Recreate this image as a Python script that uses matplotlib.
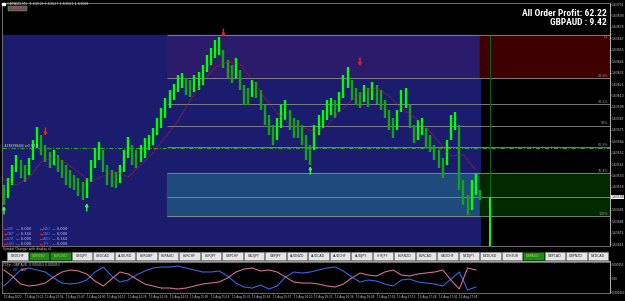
import numpy as np
import matplotlib.pyplot as plt
from matplotlib.patches import Rectangle
from matplotlib.transforms import blended_transform_factory

W, H = 625, 301

# ---- GBPAUD M1 bars ----
highs = [1.63520, 1.63527, 1.63540, 1.63550, 1.63545, 1.63540, 1.63547, 1.63565, 1.63578, 1.63570,
         1.63560, 1.63553, 1.63555, 1.63550, 1.63545, 1.63540, 1.63535, 1.63530, 1.63527, 1.63523,
         1.63527, 1.63545, 1.63557, 1.63563, 1.63555, 1.63540, 1.63535, 1.63533, 1.63540, 1.63555,
         1.63568, 1.63560, 1.63555, 1.63560, 1.63567, 1.63570, 1.63577, 1.63587, 1.63597, 1.63607,
         1.63615, 1.63621, 1.63630, 1.63632, 1.63627, 1.63625, 1.63630, 1.63633, 1.63640, 1.63650,
         1.63657, 1.63665, 1.63668, 1.63655, 1.63645, 1.63640, 1.63647, 1.63635, 1.63620, 1.63617,
         1.63625, 1.63623, 1.63615, 1.63600, 1.63590, 1.63580, 1.63587, 1.63600, 1.63605, 1.63595,
         1.63587, 1.63585, 1.63580, 1.63570, 1.63560, 1.63580, 1.63590, 1.63595, 1.63605, 1.63607,
         1.63605, 1.63613, 1.63630, 1.63638, 1.63625, 1.63617, 1.63613, 1.63620, 1.63617, 1.63623,
         1.63620, 1.63615, 1.63605, 1.63595, 1.63587, 1.63595, 1.63615, 1.63617, 1.63600, 1.63580,
         1.63585, 1.63587, 1.63577, 1.63570, 1.63560, 1.63555, 1.63547, 1.63565, 1.63590, 1.63593,
         1.63580, 1.63525, 1.63510, 1.63525, 1.63532, 1.63515]
lows = [1.63500, 1.63507, 1.63520, 1.63533, 1.63527, 1.63523, 1.63530, 1.63545, 1.63557, 1.63550,
        1.63543, 1.63537, 1.63540, 1.63533, 1.63527, 1.63520, 1.63517, 1.63515, 1.63509, 1.63505,
        1.63507, 1.63523, 1.63537, 1.63545, 1.63533, 1.63520, 1.63518, 1.63517, 1.63522, 1.63533,
        1.63547, 1.63540, 1.63537, 1.63543, 1.63547, 1.63555, 1.63560, 1.63570, 1.63577, 1.63587,
        1.63597, 1.63605, 1.63613, 1.63617, 1.63610, 1.63608, 1.63613, 1.63615, 1.63620, 1.63633,
        1.63640, 1.63647, 1.63650, 1.63637, 1.63627, 1.63622, 1.63627, 1.63615, 1.63600, 1.63600,
        1.63608, 1.63607, 1.63595, 1.63580, 1.63570, 1.63560, 1.63565, 1.63577, 1.63585, 1.63575,
        1.63567, 1.63567, 1.63560, 1.63545, 1.63540, 1.63555, 1.63570, 1.63577, 1.63585, 1.63590,
        1.63587, 1.63593, 1.63607, 1.63617, 1.63605, 1.63600, 1.63597, 1.63603, 1.63598, 1.63605,
        1.63601, 1.63595, 1.63587, 1.63575, 1.63567, 1.63575, 1.63593, 1.63597, 1.63577, 1.63562,
        1.63565, 1.63570, 1.63557, 1.63553, 1.63545, 1.63537, 1.63527, 1.63540, 1.63565, 1.63575,
        1.63515, 1.63500, 1.63490, 1.63495, 1.63510, 1.63505]

# moving average, one point every 3 bars
ma_vals = [1.63525, 1.63520, 1.63527, 1.63543, 1.63548, 1.63542, 1.63533, 1.63523, 1.63529, 1.63533,
           1.63528, 1.63540, 1.63552, 1.63568, 1.63584, 1.63605, 1.63623, 1.63638, 1.63643, 1.63641,
           1.63625, 1.63607, 1.63592, 1.63581, 1.63578, 1.63573, 1.63579, 1.63593, 1.63605, 1.63613,
           1.63617, 1.63609, 1.63597, 1.63588, 1.63578, 1.63563, 1.63549, 1.63550, 1.63535]

bid = 1.63508
order_price = 1.63557
fib_high, fib_low = 1.63670, 1.63489
fib_ratios = [0, 23.6, 38.2, 50, 61.8, 76.4, 100]
fib_labels = ['D1', '23.6%', '38.2%', '50%', '61.8%', '76.4%', '100%']
fib_start, session_end, separator = 39.4, 115, 117.4

sell_bars = [10, 53, 86]
sell_prices = [1.63573, 1.63672, 1.63643]
buy_bars = [0, 20, 74]
buy_prices = [1.63495, 1.63498, 1.63535]

# CCFp lines (units of 1e-4), one point every 2 bars
gbp_line = [-2.59, 0.00, 2.59, 3.24, 2.59, 1.94, 0.00, -1.62, -1.94, -1.62,
            -0.65, 1.94, 3.56, 0.65, -1.29, -0.65, 0.97, 2.27, 3.24, 3.56,
            3.56, 3.88, 3.24, 2.59, 1.94, 1.94, 2.27, 0.65, -1.62, -2.91,
            -3.24, -2.27, -3.56, -2.59, 0.32, 1.94, 1.62, 1.94, 2.59, 3.24,
            3.56, 2.27, 0.32, -1.29, -0.65, -0.97, -1.94, -2.59, -0.65, -0.32,
            -1.29, -1.62, -1.94, -2.59, -0.32, 1.94, -3.88, -2.91]
aud_line = [2.59, 0.65, -1.94, -2.59, -2.27, -1.62, 0.32, 1.94, 2.59, 2.27,
            1.29, -0.97, -2.59, -0.32, 1.94, 1.29, -0.32, -1.94, -2.59, -3.24,
            -3.24, -3.56, -3.24, -2.59, -1.94, -1.62, -1.29, 0.00, 1.94, 2.91,
            3.24, 2.27, 2.59, 1.94, 0.32, -1.29, -1.62, -1.62, -1.94, -2.59,
            -2.91, -1.94, 0.00, 1.62, 0.97, 0.65, 1.94, 2.59, 0.97, 0.65,
            1.29, 1.62, 1.94, 2.59, -0.65, -3.56, 3.24, 2.59]

time_labels = ['13 Aug 2020', '13 Aug 13:21', '13 Aug 13:34', '13 Aug 13:47', '13 Aug 14:00',
               '13 Aug 14:13', '13 Aug 14:26', '13 Aug 14:39', '13 Aug 14:52', '13 Aug 15:05',
               '13 Aug 15:18', '13 Aug 15:31', '13 Aug 15:44', '13 Aug 15:57', '13 Aug 16:10',
               '13 Aug 16:23', '13 Aug 16:36', '13 Aug 16:49', '13 Aug 17:02', '13 Aug 17:15',
               '13 Aug 17:28', '13 Aug 17:41', '13 Aug 17:54']

buttons = ['USDCHF', 'GBPUSD', 'EURUSD', 'USDJPY', 'USDCAD', 'AUDUSD', 'EURGBP', 'EURAUD',
           'EURCHF', 'EURJPY', 'GBPCHF', 'CADJPY', 'GBPJPY', 'AUDNZD', 'AUDCAD', 'AUDCHF',
           'AUDJPY', 'CHFJPY', 'EURNZD', 'EURCAD', 'CADCHF', 'NZDJPY', 'NZDUSD', 'ETHEUR',
           'GBPAUD', 'GBPCAD', 'GBPNZD', 'NZDCAD']
active = ['GBPUSD', 'EURUSD', 'GBPAUD']

strength_names = ['CHF', 'NZD', 'GBP', 'CAD', 'EUR', 'AUD', 'USD', 'JPY']
strength_vals = [0.000, 0.000, 0.344, 0.000, 0.000, 0.344, 0.000, 0.000]

narrow = ['Liberation Sans Narrow', 'Roboto Condensed', 'Liberation Sans']


def px_rect(x0, y0, x1, y1):
    return [x0 / W, 1 - y1 / H, (x1 - x0) / W, (y1 - y0) / H]


fig = plt.figure(figsize=(W / 100, H / 100), dpi=100, facecolor='black')

# ---- main price chart ----
ax = fig.add_axes(px_rect(2, 3, 610, 246))
ax.set_facecolor('black')
ax.set_xlim(-0.48, 146.4)
ax.set_ylim(1.63459, 1.63702)

levels = [fib_high - r / 100 * (fib_high - fib_low) for r in fib_ratios]
ax.add_patch(Rectangle((-5, 1.634), session_end + 5, fib_high - 1.634, color='#1c1c6e', zorder=0))
ax.add_patch(Rectangle((fib_start, levels[1]), session_end - fib_start, levels[0] - levels[1],
                       color='#2b1c6b', zorder=0.5))
ax.add_patch(Rectangle((fib_start, levels[6]), session_end - fib_start, levels[5] - levels[6],
                       color='#1f4a7c', zorder=0.5))
ax.add_patch(Rectangle((session_end, levels[1]), 40, levels[0] - levels[1], color='#3e0000', zorder=0.5))
ax.add_patch(Rectangle((session_end, levels[6]), 40, levels[5] - levels[6], color='#002900', zorder=0.5))
ax.hlines(levels, fib_start, 150, colors='#8c8c8c', lw=0.6, zorder=1)
ax.hlines(bid, fib_start, 150, colors='#8c8c8c', lw=0.6, zorder=1)
for lv, lab in zip(levels, fib_labels):
    ax.text(146, lv, lab, ha='right', va='top' if lab == 'D1' else 'bottom', fontsize=2.4,
            color='#a0a030' if lab == 'D1' else '#9a9a9a', zorder=5)

ax.vlines(separator, 1.634, fib_high, colors='#0a6a0a', lw=0.7, zorder=1)
ax.vlines(separator, 1.634, bid, colors='#00ff00', lw=1.5, zorder=2)

ax.axhline(order_price, color='#2e9e2e', lw=0.8, ls=(0, (4, 1.5, 1, 1.5)), zorder=2)
ax.text(0, order_price + 0.000012, '#298398444 sell 0.10', fontsize=2.2, color='#e0e0e0', zorder=5)

x = np.arange(len(highs))
mids = (np.array(highs) + np.array(lows)) / 2
cols = ['#00ff00' if i > 0 and mids[i] >= mids[i - 1] else '#13a513' for i in range(len(mids))]
ax.vlines(x, lows, highs, colors=cols, lw=1.7, zorder=3)
ax.plot(np.arange(len(ma_vals)) * 3, ma_vals, color='#d42020', lw=0.6, ls=(0, (1, 1)), zorder=4)

for b, p in zip(sell_bars, sell_prices):
    ax.annotate('', xy=(b, p - 0.00004), xytext=(b, p + 0.00004),
                arrowprops=dict(arrowstyle='-|>', color='#ff1a1a', lw=1.0, mutation_scale=4,
                                shrinkA=0, shrinkB=0), zorder=6)
for b, p in zip(buy_bars, buy_prices):
    ax.annotate('', xy=(b, p + 0.00004), xytext=(b, p - 0.00004),
                arrowprops=dict(arrowstyle='-|>', color='#3cff3c', lw=1.0, mutation_scale=4,
                                shrinkA=0, shrinkB=0), zorder=6)

# price scale; the tick next to the bid is covered by the bid label
yt = [1.63701 - 0.0001143 * k for k in range(22)]
yt = [v for v in yt if abs(v - bid) > 0.00005]
ax.set_yticks(yt)
ax.set_yticklabels(['%.5f' % v for v in yt])
ax.yaxis.tick_right()
ax.tick_params(axis='y', labelsize=2.2, colors='#d0d0d0', length=1.0, width=0.4, pad=0.4)
ax.set_xticks([])
for s in ['left', 'top', 'bottom']:
    ax.spines[s].set_color('#808080')
    ax.spines[s].set_linewidth(0.6)
ax.spines['right'].set_color('#d0d0d0')
ax.spines['right'].set_linewidth(0.6)
tr = blended_transform_factory(ax.transAxes, ax.transData)
ax.text(1.002, bid, '%.5f' % bid, transform=tr, fontsize=2.2, color='black', va='center',
        bbox=dict(fc='white', ec='none', pad=0.2), zorder=7)

# ---- CCFp indicator ----
ai = fig.add_axes(px_rect(2, 262, 610, 293))
ai.set_facecolor('black')
ai.set_xlim(-0.48, 146.4)
ai.set_ylim(-4.85, 5.18)
cx = np.arange(len(gbp_line)) * 2
ai.plot(cx, gbp_line, color='#3a62e6', lw=0.8)
ai.plot(cx, aud_line, color='#d66b94', lw=0.8)
ai.set_yticks([4.53, 0, -4.53])
ai.set_yticklabels(['0.000453', '0.00', '-0.000453'])
ai.yaxis.tick_right()
ai.set_xticks(np.arange(len(time_labels)) * 5)
ai.set_xticklabels(time_labels, ha='left')
ai.tick_params(labelsize=2.0, colors='#d0d0d0', length=1.0, width=0.4, pad=0.6)
for s in ai.spines.values():
    s.set_color('#808080')
    s.set_linewidth(0.6)
ai.spines['right'].set_color('#d0d0d0')

# ---- overlay texts, buttons ----
ov = fig.add_axes([0, 0, 1, 1])
ov.set_xlim(0, W)
ov.set_ylim(H, 0)
ov.axis('off')
ov.patch.set_alpha(0)

ov.add_patch(Rectangle((2, 2.5), 2.5, 2, color='white'))
ov.text(7, 3.6, 'GBPAUD,M1  1.63519 1.63527 1.63501 1.63508', fontsize=2.4, color='#e0e0e0', va='center')
ov.add_patch(Rectangle((8, 5.5), 18.5, 5.5, fc='#5a5a5a', ec='#9a9a9a', lw=0.3))
ov.text(17.2, 8.3, 'Close', fontsize=2.6, color='#ff3030', ha='center', va='center')

ov.text(607, 13.2, 'All Order Profit: 62.22', fontsize=6.8, fontweight='bold', color='white',
        ha='right', va='center', family=narrow, fontstretch='condensed')
ov.text(607, 22.4, 'GBPAUD : 9.42', fontsize=6.8, fontweight='bold', color='white',
        ha='right', va='center', family=narrow, fontstretch='condensed')

for k, (nm, v) in enumerate(zip(strength_names, strength_vals)):
    cx0 = 4 + 36 * (k % 2)
    cy0 = 229 + 5 * (k // 2)
    ov.plot([cx0, cx0 + 2], [cy0, cy0], color='#e02020', lw=0.8)
    ov.text(cx0 + 3, cy0, nm, fontsize=2.6, color='#5b7bff', va='center')
    ov.text(cx0 + 12, cy0, '— %.3f' % v, fontsize=2.6, color='#c8c8ff', va='center')

ov.text(3, 248.6, 'Symbol Changer with display x1', fontsize=2.2, color='#d0d0d0', va='center')
ov.plot([2, 610], [261, 261], color='#9a9a9a', lw=0.8)
for i, nm in enumerate(buttons):
    x0 = 7 + 21.5 * i
    on = nm in active
    ov.add_patch(Rectangle((x0, 252), 20.5, 8, fc='#1f8a1f' if on else '#e6e6e6',
                           ec='#0d4d0d' if on else '#9a9a9a', lw=0.4))
    ov.text(x0 + 10.25, 256.2, nm, fontsize=2.3, color='#b8d040' if on else '#202020',
            ha='center', va='center')

ov.text(3, 265.3, 'CCFp - GBP AUD -0.000453 0.000453', fontsize=2.2, color='#d0d0d0', va='center')
ov.text(13, 270, 'GBP', fontsize=2.2, color='#4a70ff', va='center')
ov.text(21, 270, 'AUD', fontsize=2.2, color='#e070a0', va='center')

fig.savefig('out.png', dpi=100, facecolor='black')
